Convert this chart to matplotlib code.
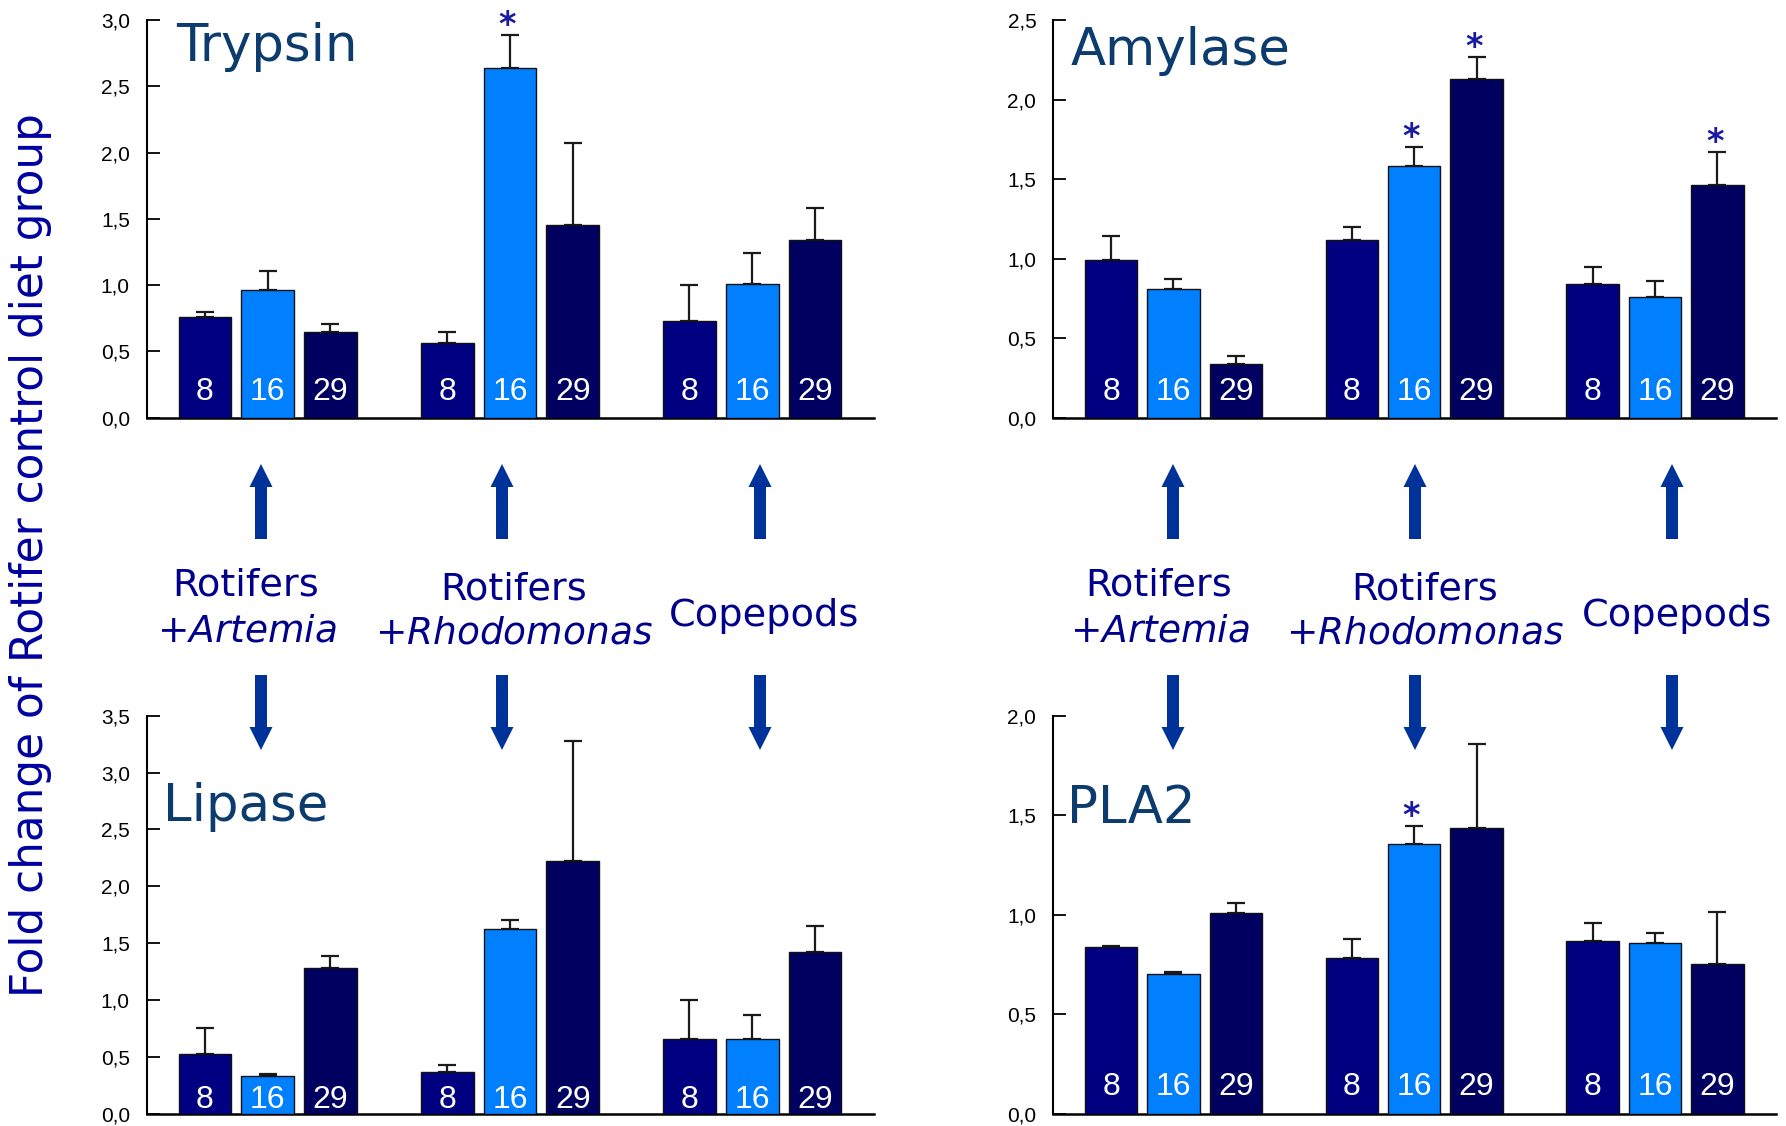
"""
Digestive enzyme expression - fold change vs rotifer control diet
Run: python plot.py
"""
import numpy as np
import matplotlib
matplotlib.use("Agg")
import matplotlib.pyplot as plt
import matplotlib.ticker as mtick
from matplotlib.patches import FancyArrow

# ── Data ─────────────────────────────────────────────────────────────────────
DAYS = ["8", "16", "29"]
DIETS = ["Rotifers\n+Artemia", "Rotifers\n+Rhodomonas", "Copepods"]

# mean fold change, order: diet1 d8,d16,d29, diet2 d8,d16,d29, diet3 d8,d16,d29
trypsin_mean = [0.76, 0.96, 0.65, 0.56, 2.64, 1.45, 0.73, 1.01, 1.34]
trypsin_err  = [0.04, 0.15, 0.06, 0.09, 0.25, 0.62, 0.27, 0.23, 0.24]
trypsin_sig  = [4]

amylase_mean = [0.99, 0.81, 0.34, 1.12, 1.58, 2.13, 0.84, 0.76, 1.46]
amylase_err  = [0.15, 0.06, 0.05, 0.08, 0.12, 0.14, 0.105, 0.10, 0.21]
amylase_sig  = [4, 5, 8]

lipase_mean = [0.525, 0.33, 1.28, 0.37, 1.62, 2.22, 0.66, 0.66, 1.42]
lipase_err  = [0.225, 0.02, 0.105, 0.06, 0.08, 1.06, 0.34, 0.21, 0.235]
lipase_sig  = []

pla2_mean = [0.84, 0.70, 1.01, 0.78, 1.355, 1.435, 0.87, 0.86, 0.75]
pla2_err  = [0.005, 0.01, 0.05, 0.10, 0.09, 0.425, 0.09, 0.05, 0.265]
pla2_sig  = [4]

# ── Style / layout ───────────────────────────────────────────────────────────
W, H = 1786, 1126
BAR_COLORS = ["#000080", "#0080ff", "#000060"]
TITLE_COLOR = "#0c3b6e"
TEXT_BLUE = "#00008b"
ARROW_BLUE = "#003399"
STAR_BLUE = "#1a1aa0"
GROUP_STEP = 3.86
BAR_W = 0.84

# (name, mean, err, sig, ymax, axes rect in px [left, top, right, bottom], title xy px, label baseline frac)
PANELS = [
    ("Trypsin", trypsin_mean, trypsin_err, trypsin_sig, 3.0, (146.5, 20, 874, 417.7), (176, 61), 0.044),
    ("Amylase", amylase_mean, amylase_err, amylase_sig, 2.5, (1053, 20, 1776, 417.7), (1071, 65), 0.045),
    ("Lipase", lipase_mean, lipase_err, lipase_sig, 3.5, (146.5, 715.7, 874, 1113.7), (163, 821), 0.014),
    ("PLA2", pla2_mean, pla2_err, pla2_sig, 2.0, (1053, 715.7, 1776, 1113.7), (1067, 823), 0.047),
]

ARROW_X = [261, 502, 760, 1173, 1415, 1672]
LABEL_POS = [(246, 586, 247, 631), (514, 589, 514, 634), (764, 616, None, None)]
RIGHT_SHIFT = [913, 911, 913]

plt.rcParams["font.family"] = "DejaVu Sans"


def px_rect(l, t, r, b):
    return [l / W, 1 - b / H, (r - l) / W, (b - t) / H]


def draw_panel(fig, name, mean, err, sig, ymax, rect, title_xy, lab_frac):
    ax = fig.add_axes(px_rect(*rect))
    x = np.array([g * GROUP_STEP + i for g in range(3) for i in range(3)])
    colors = BAR_COLORS * 3
    ax.errorbar(x, mean, yerr=[np.zeros(len(err)), err], fmt="none", ecolor="#1a1a1a",
                elinewidth=1.6, capsize=6.5, capthick=1.6, zorder=2)
    ax.bar(x, mean, width=BAR_W, color=colors, edgecolor="#111111", linewidth=1.0, zorder=3)
    for xi, day in zip(x, DAYS * 3):
        ax.text(xi, lab_frac, day, transform=ax.get_xaxis_transform(), ha="center",
                va="baseline", color="white", fontsize=23, family="Liberation Sans", zorder=4)
    for i in sig:
        ax.annotate("*", xy=(x[i], mean[i] + err[i]), xytext=(-2, 0), textcoords="offset points",
                    ha="center", va="baseline", fontsize=24, fontweight="bold", color=STAR_BLUE)
    ax.set_xlim(-0.93, 10.66)
    ax.set_ylim(0, ymax)
    ax.set_yticks(np.arange(0, ymax + 0.01, 0.5))
    ax.yaxis.set_major_formatter(mtick.FuncFormatter(lambda v, p: f"{v:.1f}".replace(".", ",")))
    ax.set_xticks([])
    for s in ["top", "right"]:
        ax.spines[s].set_visible(False)
    ax.spines["left"].set_linewidth(1.5)
    ax.spines["bottom"].set_linewidth(1.8)
    ax.tick_params(axis="y", direction="in", length=9, width=1.3, pad=12, labelsize=15)
    for lab in ax.get_yticklabels():
        lab.set_family("Liberation Sans")
    ax.patch.set_alpha(0)
    fig.text(title_xy[0] / W, 1 - title_xy[1] / H, name, ha="left", va="baseline",
             fontsize=37, color=TITLE_COLOR)
    return ax


def draw_overlay(fig):
    ov = fig.add_axes([0, 0, 1, 1], zorder=-1)
    ov.set_xlim(0, W); ov.set_ylim(H, 0); ov.axis("off")
    for ax_x in ARROW_X:
        ov.add_patch(FancyArrow(ax_x, 539, 0, -75, width=12, head_width=23, head_length=23,
                                length_includes_head=True, color=ARROW_BLUE, lw=0))
        ov.add_patch(FancyArrow(ax_x, 675, 0, 75, width=12, head_width=23, head_length=23,
                                length_includes_head=True, color=ARROW_BLUE, lw=0))
    words = [("Rotifers", r"+$\it{Artemia}$"), ("Rotifers", r"+$\it{Rhodomonas}$"), ("Copepods", None)]
    for side in (0, 1):
        for (l1, l2), (x1, y1, x2, y2), dx in zip(words, LABEL_POS, RIGHT_SHIFT):
            dx = dx * side
            ov.text(x1 + dx, y1, l1, ha="center", va="center", fontsize=27.5, color=TEXT_BLUE)
            if l2:
                ov.text(x2 + dx, y2, l2, ha="center", va="center", fontsize=27, color=TEXT_BLUE)
    ov.text(31, 555, "Fold change of Rotifer control diet group", rotation=90, ha="center",
            va="center", fontsize=31.5, color="#0000a0")


if __name__ == "__main__":
    fig = plt.figure(figsize=(W / 100, H / 100), dpi=100)
    draw_overlay(fig)
    for p in PANELS:
        draw_panel(fig, *p)
    fig.savefig("out.png", dpi=100)
    print("Saved: out.png")
